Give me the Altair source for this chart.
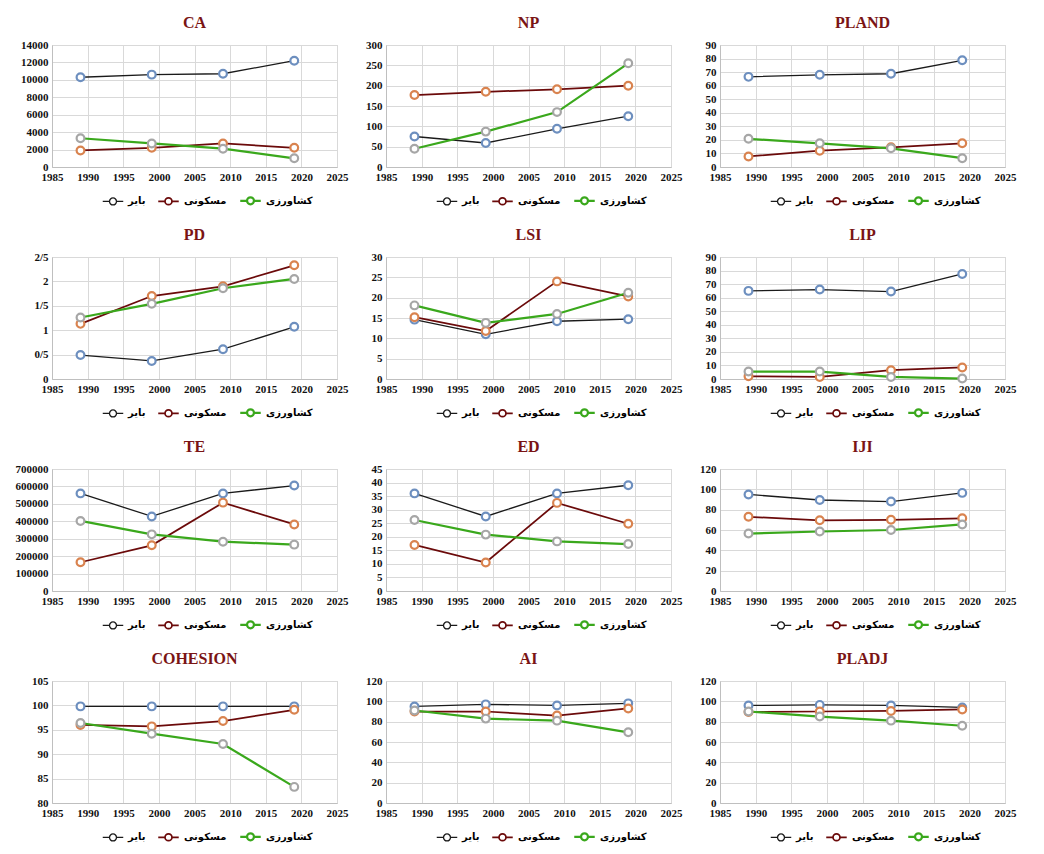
import altair as alt
import pandas as pd
import numpy as np

years = [1989, 1999, 2009, 2019]
classes = ["بایر", "مسکونی", "کشاورزی"]
line_colors = ["#1a1a1a", "#6b0a0a", "#3aa81c"]
marker_colors = ["#6d8fbf", "#d9834f", "#a6a6a6"]
line_widths = [1.3, 2.2, 2.2]

ca = [[10300, 10600, 10700, 12200], [1900, 2200, 2700, 2200], [3300, 2700, 2100, 1000]]
np_ = [[75, 59, 94, 125], [177, 185, 191, 200], [45, 87, 135, 255]]
pland = [[66.5, 68, 68.8, 78.7], [7.8, 12, 14.5, 17.5], [20.8, 17.5, 13.8, 6.5]]
pdn = [[0.49, 0.37, 0.61, 1.07], [1.13, 1.7, 1.9, 2.33], [1.26, 1.54, 1.86, 2.05]]
lsi = [[14.6, 11, 14.2, 14.7], [15.2, 11.8, 24, 20.3], [18.1, 13.8, 16, 21.2]]
lip = [[65, 66, 64.5, 77.5], [2, 1.5, 6.5, 8.5], [5.5, 5.5, 1.5, 0.3]]
te = [[560000, 428000, 560000, 605000], [165000, 262000, 507000, 382000], [402000, 325000, 283000, 266000]]
ed = [[36, 27.5, 36, 39], [17, 10.5, 32.5, 24.8], [26.2, 20.8, 18.3, 17.3]]
iji = [[95, 89.5, 88, 96.5], [73, 69.5, 70, 71.5], [56.5, 58.5, 60, 65.5]]
cohesion = [[99.8, 99.8, 99.8, 99.8], [96, 95.7, 96.8, 99.1], [96.4, 94.2, 92.1, 83.3]]
ai = [[95, 97, 96, 98], [90, 90, 86, 93], [91, 83, 81, 69.5]]
pladj = [[96, 96.5, 96, 94], [89.5, 90, 90.5, 92], [90, 85, 81, 76]]

panels = [
    ("CA", ca, 0, 14000, 2000),
    ("NP", np_, 0, 300, 50),
    ("PLAND", pland, 0, 90, 10),
    ("PD", pdn, 0, 2.5, 0.5),
    ("LSI", lsi, 0, 30, 5),
    ("LIP", lip, 0, 90, 10),
    ("TE", te, 0, 700000, 100000),
    ("ED", ed, 0, 45, 5),
    ("IJI", iji, 0, 120, 20),
    ("COHESION", cohesion, 80, 105, 5),
    ("AI", ai, 0, 120, 20),
    ("PLADJ", pladj, 0, 120, 20),
]

x_ticks = list(range(1985, 2030, 5))
legend_symbol = "M-1,0H-0.34M0.34,0H1M0.34,0A0.34,0.34,0,1,1,-0.34,0A0.34,0.34,0,1,1,0.34,0"

W, H = 285, 122


def make_panel(title, series, lo, hi, step):
    rows = []
    for cls, vals in zip(classes, series):
        for yr, v in zip(years, vals):
            rows.append({"year": yr, "value": v, "class": cls})
    df = pd.DataFrame(rows)
    ticks = [round(float(t), 4) for t in np.arange(lo, hi + step / 2, step)]
    axis_kwargs = dict(values=ticks, title=None)
    if title == "PD":
        axis_kwargs["labelExpr"] = "replace(format(datum.value, ''), '.', '/')"
    else:
        axis_kwargs["format"] = "d"
    base = alt.Chart(df).encode(
        x=alt.X("year:Q",
                scale=alt.Scale(domain=[1985, 2025], nice=False, zero=False),
                axis=alt.Axis(values=x_ticks, format="d", title=None, labelFlush=False)),
        y=alt.Y("value:Q", scale=alt.Scale(domain=[lo, hi], nice=False, zero=False),
                axis=alt.Axis(**axis_kwargs)),
    )
    lines = base.mark_line().encode(
        color=alt.Color("class:N", sort=classes,
                        scale=alt.Scale(domain=classes, range=line_colors),
                        legend=alt.Legend(orient="none", direction="horizontal", title=None,
                                          legendX=50, legendY=H + 22,
                                          symbolType=legend_symbol, symbolSize=420,
                                          symbolStrokeWidth=1.8,
                                          labelFont="DejaVu Sans", labelFontSize=10,
                                          labelFontWeight="bold", columnPadding=8,
                                          labelOffset=4)),
        strokeWidth=alt.StrokeWidth("class:N", scale=alt.Scale(domain=classes, range=line_widths),
                                    legend=None),
    )
    points = base.mark_point(shape="circle", filled=True, fill="white", size=60,
                             strokeWidth=2.2, opacity=1).encode(
        stroke=alt.Stroke("class:N", scale=alt.Scale(domain=classes, range=marker_colors),
                          legend=None),
    )
    return alt.layer(lines, points).properties(
        width=W, height=H,
        title=alt.Title(title, font="Liberation Serif", fontSize=16, fontWeight="bold",
                        color="#7a1414", offset=8),
    )


charts = [make_panel(*p) for p in panels]

chart = alt.concat(*charts, columns=3).resolve_scale(
    color="independent", stroke="independent", strokeWidth="independent",
    x="independent", y="independent"
).resolve_legend(color="independent").configure_axis(
    labelFont="Liberation Serif", labelFontSize=11, labelFontWeight="bold", labelColor="#111111",
    gridColor="#d9d9d9", domainColor="#bfbfbf", ticks=False, labelPadding=4,
).configure_view(stroke="#d0d0d0").configure_concat(spacing=16).properties(background="white", padding=6)

chart.save("out.html", embed_options={"renderer": "svg", "actions": False})
